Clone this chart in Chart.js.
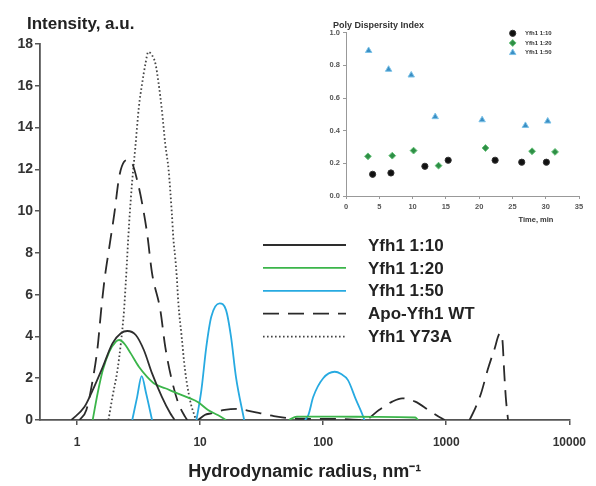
<!DOCTYPE html>
<html>
<head>
<meta charset="utf-8">
<title>Yfh1 DLS</title>
<script src="https://cdn.jsdelivr.net/npm/chart.js@4.4.1/dist/chart.umd.min.js"></script>
<style>
  body { margin: 0; background: #fff; }
  #wrap { position: relative; width: 596px; height: 486px; }
  #main { position: absolute; left: 0; top: 0; }
  #pdi { position: absolute; left: 300px; top: 10px; }
</style>
</head>
<body>
<div id="wrap">
  <canvas id="main" width="596" height="486"></canvas>
  <canvas id="pdi" width="290" height="220"></canvas>
</div>
<script>
// size distributions: radius (nm) / intensity (a.u.), null = break between peaks
const r110 = [0.9, 1.15, 1.34, 1.62, 1.94, 2.27, 2.56, 3.0, 3.49, 4.07, 4.89, 5.72, 6.08, 6.2];
const i110 = [0, 0.63, 1.43, 2.55, 3.67, 4.15, 4.26, 4.07, 3.35, 2.23, 1.11, 0.32, 0.08, 0];

const r120 = [1.34, 1.47, 1.62, 1.83, 2.07, 2.2, 2.41, 2.73, 3.18, 3.71, 4.33, 5.21, 6.27, 8.0, 9.64, 11.6, 13.9, 16.2, 30, 52.7, 61, 128, 267, 560, 590];
const i120 = [0, 1.28, 2.39, 3.27, 3.75, 3.83, 3.67, 3.19, 2.55, 2.07, 1.71, 1.52, 1.32, 1.07, 0.85, 0.48, 0.24, 0, null, 0, 0.16, 0.16, 0.15, 0.12, 0];

const r150 = [2.81, 3.08, 3.35, 3.64, 4.07, 6, 9.34, 10.24, 11.23, 12.32, 14.39, 16.25, 17.82, 19.55, 22.8, 40, 71.2, 75.8, 83.1, 100, 124, 140, 159, 185, 209, 216];
const i150 = [0, 1.11, 2.1, 1.28, 0, null, 0, 1.43, 3.5, 4.94, 5.58, 5.26, 3.99, 2.07, 0, null, 0, 0.24, 1.11, 2.0, 2.31, 2.2, 1.91, 0.96, 0.24, 0];

const rApo = [1.05, 1.19, 1.34, 1.47, 1.57, 1.67, 1.83, 2.01, 2.2, 2.41, 2.6, 2.81, 3.08, 3.38, 3.71, 4.07, 4.75, 5.21, 5.89, 6.66, 7.54, 7.87, 8.8, 9.64, 10.9, 12.3, 15.8, 20.2, 24.3, 31.0, 39.7, 50.8, 69.1, 128, 216, 284, 364, 438, 560, 716, 917, 975, 1200, 1546, 1696, 1919, 2168, 2452, 2740, 2860, 2951, 3045, 3177];
const iApo = [0, 0.48, 1.91, 3.5, 5.26, 6.7, 8.29, 9.89, 11.64, 12.36, 12.45, 12.28, 11.48, 10.37, 8.93, 7.02, 5.26, 3.5, 1.91, 0.8, 0.16, 0, null, 0, 0.24, 0.32, 0.48, 0.53, 0.45, 0.32, 0.19, 0.1, 0.06, 0.05, 0, 0.48, 0.88, 1.04, 0.88, 0.48, 0.08, 0, null, 0, 0.48, 1.28, 2.39, 3.35, 4.15, 3.83, 2.39, 1.11, 0];

const rY73A = [1.8, 1.94, 2.13, 2.27, 2.41, 2.49, 2.65, 2.81, 2.97, 3.18, 3.38, 3.6, 3.79, 4.07, 4.33, 4.6, 4.89, 5.21, 5.54, 5.89, 6.08, 6.27, 6.46, 6.66, 7.08, 7.54, 8.27, 9.07, 9.3];
const iY73A = [0, 1.11, 2.39, 3.67, 5.26, 6.6, 9.41, 11.48, 13.0, 14.99, 16.11, 17.07, 17.62, 17.46, 17.07, 16.11, 14.83, 13.2, 12.0, 9.9, 8.6, 7.81, 6.86, 5.58, 3.99, 2.39, 0.96, 0.16, 0];

const radiusTicks = [1, 10, 100, 1000, 10000];

// poly dispersity index over time (min)
const t110 = [4.0, 6.75, 11.85, 15.35, 22.4, 26.4, 30.1];
const p110 = [0.133, 0.141, 0.182, 0.219, 0.219, 0.207, 0.207];
const t120 = [3.3, 6.95, 10.15, 13.9, 20.95, 27.95, 31.4];
const p120 = [0.243, 0.247, 0.278, 0.186, 0.294, 0.274, 0.27];
const t150 = [3.4, 6.4, 9.8, 13.4, 20.45, 26.95, 30.3];
const p150 = [0.89, 0.775, 0.74, 0.485, 0.466, 0.431, 0.458];

const FAMILY = '"Liberation Sans", Arial, sans-serif';
Chart.defaults.font.family = FAMILY;

function pts(xs, ys) {
  return xs.map((x, k) => ({ x: x, y: ys[k] }));
}

function curve(label, xs, ys, color, width, dash) {
  return {
    label: label,
    data: pts(xs, ys),
    borderColor: color,
    borderWidth: width,
    borderDash: dash,
    pointRadius: 0,
    fill: false,
    cubicInterpolationMode: 'monotone',
    spanGaps: false
  };
}

// titles + legend drawn over the main plot
const mainDecor = {
  id: 'mainDecor',
  afterDraw(chart) {
    const ctx = chart.ctx;
    ctx.save();
    ctx.fillStyle = '#222';
    ctx.font = 'bold 17px ' + FAMILY;
    ctx.textBaseline = 'alphabetic';
    ctx.fillText('Intensity, a.u.', 27, 29);

    ctx.textBaseline = 'middle';
    chart.data.datasets.forEach((ds, k) => {
      const y = 245 + k * 22.9;
      ctx.beginPath();
      ctx.lineWidth = ds.borderWidth;
      ctx.strokeStyle = ds.borderColor;
      ctx.setLineDash(ds.borderDash || []);
      ctx.moveTo(263, y);
      ctx.lineTo(346, y);
      ctx.stroke();
      ctx.setLineDash([]);
      ctx.fillText(ds.label, 368, y + 1);
    });
    ctx.restore();
  }
};

new Chart(document.getElementById('main'), {
  type: 'line',
  data: {
    datasets: [
      curve('Yfh1 1:10', r110, i110, '#2e2e2e', 1.8, []),
      curve('Yfh1 1:20', r120, i120, '#3bb54a', 1.8, []),
      curve('Yfh1 1:50', r150, i150, '#27aae1', 1.8, []),
      curve('Apo-Yfh1 WT', rApo, iApo, '#2a2a2a', 1.8, [16, 9]),
      curve('Yfh1 Y73A', rY73A, iY73A, '#444', 1.8, [1.6, 2.4])
    ]
  },
  options: {
    responsive: false,
    animation: false,
    devicePixelRatio: 1,
    layout: { padding: { top: 44, right: 20, left: 0, bottom: 0 } },
    plugins: { legend: { display: false }, tooltip: { enabled: false } },
    scales: {
      x: {
        type: 'logarithmic',
        min: 0.5,
        max: 10000,
        afterBuildTicks: (s) => { s.ticks = radiusTicks.map(v => ({ value: v })); },
        afterFit: (s) => { s.height = 66; },
        ticks: {
          callback: (v) => String(v),
          font: { size: 12, weight: 'bold' },
          color: '#333',
          padding: 10,
          maxRotation: 0
        },
        grid: { drawOnChartArea: false, tickLength: 5, color: '#555', lineWidth: 1.5 },
        border: { color: '#555', width: 1.8 },
        title: {
          display: true,
          text: 'Hydrodynamic radius, nm\u207B\u00B9',
          font: { size: 18, weight: 'bold' },
          color: '#222',
          padding: { top: 0, bottom: 3 }
        }
      },
      y: {
        min: 0,
        max: 18,
        afterFit: (s) => { s.width = 40; },
        ticks: { stepSize: 2, font: { size: 14, weight: 'bold' }, color: '#333', padding: 2 },
        grid: { drawOnChartArea: false, tickLength: 5, color: '#555', lineWidth: 1.5 },
        border: { color: '#555', width: 1.8 }
      }
    }
  },
  plugins: [mainDecor]
});

// inset: title, axis caption and marker legend
const pdiDecor = {
  id: 'pdiDecor',
  afterDraw(chart) {
    const ctx = chart.ctx;
    const draw = Chart.helpers && Chart.helpers.drawPoint;
    ctx.save();
    ctx.fillStyle = '#333';
    ctx.font = 'bold 9px ' + FAMILY;
    ctx.textBaseline = 'alphabetic';
    ctx.fillText('Poly Dispersity Index', 33, 18);
    ctx.font = 'bold 7.5px ' + FAMILY;
    ctx.textAlign = 'center';
    ctx.fillText('Time, min', 236, 212);

    ctx.textAlign = 'left';
    ctx.textBaseline = 'middle';
    ctx.font = 'bold 6px ' + FAMILY;
    chart.data.datasets.forEach((ds, k) => {
      const y = 23.3 + k * 9.7;
      ctx.fillStyle = ds.backgroundColor;
      ctx.strokeStyle = ds.borderColor;
      ctx.lineWidth = ds.borderWidth;
      if (draw) {
        draw(ctx, { pointStyle: ds.pointStyle, radius: ds.pointRadius, borderWidth: ds.borderWidth, rotation: 0 }, 212.7, y);
      }
      ctx.fillStyle = '#333';
      ctx.fillText(ds.label, 225, y);
    });
    ctx.restore();
  }
};

function markers(label, xs, ys, style, fill, edge, radius) {
  return {
    label: label,
    data: pts(xs, ys),
    pointStyle: style,
    backgroundColor: fill,
    borderColor: edge,
    borderWidth: 1,
    pointRadius: radius
  };
}

const insetTick = { font: { size: 7.5, weight: 'bold' }, color: '#555', padding: 3 };

new Chart(document.getElementById('pdi'), {
  type: 'scatter',
  data: {
    datasets: [
      markers('Yfh1 1:10', t110, p110, 'circle', '#111', '#333', 3.1),
      markers('Yfh1 1:20', t120, p120, 'rectRot', '#2f8f46', '#63c077', 3.4),
      markers('Yfh1 1:50', t150, p150, 'triangle', '#3a8fc4', '#7cc2e8', 3.7)
    ]
  },
  options: {
    responsive: false,
    animation: false,
    devicePixelRatio: 1,
    layout: { padding: { top: 22.7, right: 11, left: 0, bottom: 0 } },
    plugins: { legend: { display: false }, tooltip: { enabled: false } },
    scales: {
      x: {
        min: 0,
        max: 35,
        afterFit: (s) => { s.height = 34; },
        ticks: Object.assign({ stepSize: 5, maxRotation: 0 }, insetTick),
        grid: { drawOnChartArea: false, tickLength: 3, color: '#999' },
        border: { color: '#999', width: 1 }
      },
      y: {
        min: 0,
        max: 1,
        afterFit: (s) => { s.width = 46; },
        ticks: Object.assign({ stepSize: 0.2, callback: (v) => v.toFixed(1) }, insetTick),
        grid: { drawOnChartArea: false, tickLength: 3, color: '#999' },
        border: { color: '#999', width: 1 }
      }
    }
  },
  plugins: [pdiDecor]
});
</script>
</body>
</html>
